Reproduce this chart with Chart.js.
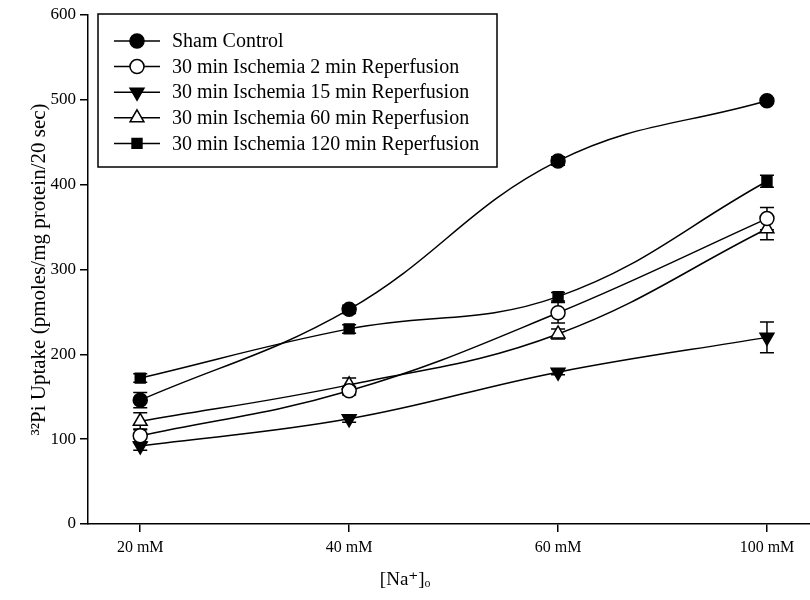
<!DOCTYPE html>
<html>
<head>
<meta charset="utf-8">
<script src="https://cdn.jsdelivr.net/npm/chart.js@4/dist/chart.umd.min.js"></script>
<style>
  html, body { margin: 0; padding: 0; background: #fff; }
  #wrap { width: 810px; height: 600px; }
</style>
</head>
<body>
<div id="wrap"><canvas id="chart" width="810" height="600"></canvas></div>
<script>
// --- DATOS ---
const categorias = ["20 mM", "40 mM", "60 mM", "100 mM"];
const yTicks = [0, 100, 200, 300, 400, 500, 600];

const nombres = [
    "Sham Control",
    "30 min Ischemia 2 min Reperfusion",
    "30 min Ischemia 15 min Reperfusion",
    "30 min Ischemia 60 min Reperfusion",
    "30 min Ischemia 120 min Reperfusion"
];

const sham    = [146, 253, 428, 499];
const isq2    = [104, 157, 249, 360];
const isq15   = [92, 124, 179, 220];
const isq60   = [121, 164, 224, 348];
const isq120  = [172, 230, 268, 404];

const errSham   = [9, 5, 5, 3];
const errIsq2   = [8, 5, 12, 13];
const errIsq15  = [5, 4, 3, 18];
const errIsq60  = [10, 8, 6, 13];
const errIsq120 = [5, 5, 5, 7];

const tituloX = "[Na\u207A]\u2092";
const tituloY = "\u00B3\u00B2Pi Uptake (pmoles/mg protein/20 sec)";

const FUENTE = "'Liberation Serif', 'DejaVu Serif', serif";

// estilos de marcador por serie
const estilos = [
    { pointStyle: 'circle',   radius: 7, rotation: 0,   fill: '#000' },
    { pointStyle: 'circle',   radius: 7, rotation: 0,   fill: '#fff' },
    { pointStyle: 'triangle', radius: 8, rotation: 180, fill: '#000' },
    { pointStyle: 'triangle', radius: 8, rotation: 0,   fill: '#fff' },
    { pointStyle: 'rect',     radius: 7, rotation: 0,   fill: '#000' }
];

const series = [sham, isq2, isq15, isq60, isq120];
const errores = [errSham, errIsq2, errIsq15, errIsq60, errIsq120];

const datasets = series.map((valores, i) => ({
    label: nombres[i],
    data: valores.map((v, k) => ({ x: k, y: v })),
    errores: errores[i],
    borderColor: '#000',
    borderWidth: 1.5,
    tension: 0.4,
    pointStyle: estilos[i].pointStyle,
    pointRadius: estilos[i].radius,
    pointRotation: estilos[i].rotation,
    pointBackgroundColor: estilos[i].fill,
    pointBorderColor: '#000',
    pointBorderWidth: 1.5,
    fill: false
}));

// Barras de error (usa las escalas del grafico)
const barrasError = {
    id: 'barrasError',
    beforeDatasetsDraw(chart) {
        const ctx = chart.ctx;
        const sx = chart.scales.x, sy = chart.scales.y;
        ctx.save();
        ctx.strokeStyle = '#000';
        ctx.lineWidth = 1.5;
        chart.data.datasets.forEach(ds => {
            ds.data.forEach((p, k) => {
                const e = ds.errores[k];
                const x = sx.getPixelForValue(p.x);
                const y1 = sy.getPixelForValue(p.y + e);
                const y2 = sy.getPixelForValue(p.y - e);
                ctx.beginPath();
                ctx.moveTo(x, y1); ctx.lineTo(x, y2);
                ctx.moveTo(x - 7, y1); ctx.lineTo(x + 7, y1);
                ctx.moveTo(x - 7, y2); ctx.lineTo(x + 7, y2);
                ctx.stroke();
            });
        });
        ctx.restore();
    }
};

// Leyenda dibujada a mano (linea + marcador) y titulo del eje X
const leyenda = {
    id: 'leyenda',
    afterDraw(chart) {
        const ctx = chart.ctx;
        ctx.save();
        ctx.strokeStyle = '#000';
        ctx.lineWidth = 1.5;
        ctx.strokeRect(98, 14, 399, 153);
        ctx.font = "20px " + FUENTE;
        ctx.textBaseline = 'middle';
        ctx.fillStyle = '#000';
        chart.data.datasets.forEach((ds, i) => {
            const y = 41 + i * 25.6;
            ctx.beginPath();
            ctx.moveTo(114, y); ctx.lineTo(160, y);
            ctx.stroke();
            ctx.fillStyle = ds.pointBackgroundColor;
            Chart.helpers.drawPoint(ctx, {
                pointStyle: ds.pointStyle,
                radius: ds.pointRadius,
                rotation: ds.pointRotation,
                borderWidth: 1.5
            }, 137, y);
            ctx.fillStyle = '#000';
            ctx.fillText(ds.label, 172, y + 1);
        });
        // titulo X centrado en la figura, no en el area del grafico
        ctx.font = "19px " + FUENTE;
        ctx.textAlign = 'center';
        ctx.fillText(tituloX, chart.width / 2, 580);
        ctx.restore();
    }
};

new Chart(document.getElementById('chart'), {
    type: 'line',
    data: { datasets },
    plugins: [barrasError, leyenda],
    options: {
        responsive: false,
        animation: false,
        layout: { autoPadding: false, padding: { top: 15, right: 0, left: 0, bottom: 0 } },
        plugins: { legend: { display: false }, tooltip: { enabled: false } },
        scales: {
            x: {
                type: 'linear',
                min: -0.25,
                max: 3.206,
                afterBuildTicks: (s) => { s.ticks = categorias.map((c, k) => ({ value: k })); },
                afterFit: (s) => { s.height = 76; s.paddingRight = 0; s.paddingLeft = 0; },
                ticks: {
                    callback: (v) => categorias[v],
                    color: '#000',
                    font: { family: FUENTE, size: 16 },
                    padding: 6,
                    maxRotation: 0
                },
                grid: { drawOnChartArea: false, tickLength: 8, color: '#000', lineWidth: 1.5 },
                border: { color: '#000', width: 1.5 },
                title: { display: false }
            },
            y: {
                min: 0,
                max: 600,
                afterBuildTicks: (s) => { s.ticks = yTicks.map(v => ({ value: v })); },
                afterFit: (s) => { s.width = 88; },
                ticks: {
                    color: '#000',
                    font: { family: FUENTE, size: 17 },
                    padding: 4
                },
                grid: { drawOnChartArea: false, tickLength: 8, color: '#000', lineWidth: 1.5 },
                border: { color: '#000', width: 1.5 },
                title: {
                    display: true,
                    text: tituloY,
                    color: '#000',
                    font: { family: FUENTE, size: 21 },
                    padding: { top: 27, bottom: 0 }
                }
            }
        }
    }
});
</script>
</body>
</html>
